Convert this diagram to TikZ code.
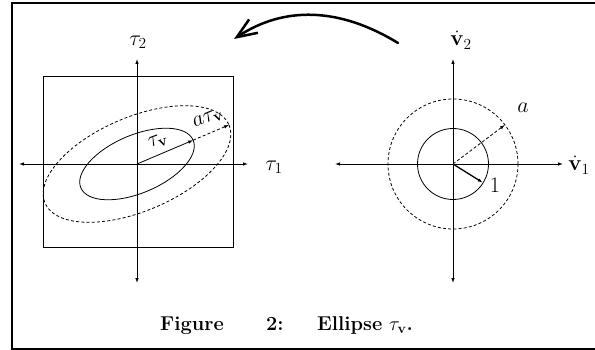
\RequirePackage{fix-cm}
\documentclass[tikz,border=0pt]{standalone}
\usetikzlibrary{arrows.meta,calc}
\begin{document}
\begin{tikzpicture}[x=1pt,y=-1pt,
  axis/.style={line width=0.8pt,{Latex[length=5pt,width=3.5pt]}-{Latex[length=5pt,width=3.5pt]}},
  dashcurve/.style={dash pattern=on 3pt off 2.2pt, line width=0.8pt},
  solidcurve/.style={line width=0.8pt},
  lab/.style={font=\fontsize{22}{26}\selectfont, inner sep=0pt},
  capt/.style={font=\fontsize{20}{24}\selectfont\bfseries, inner sep=0pt, anchor=base west},
  framel/.style={line width=1.4pt},
  bigarrow/.style={line width=2.5pt, line cap=round, -{Straight Barb[length=20pt,width=16pt]}}
]
\useasboundingbox (0,0) rectangle (595,350);
\draw[framel] (595,3) -- (12,3) -- (12,349) -- (595,349);

% left diagram
\coordinate (O1) at (137,164);
\coordinate (L1w) at (19,164);
\coordinate (L1e) at (248,164);
\coordinate (L1n) at (137,59);
\coordinate (L1s) at (137,283);
\draw[axis] (L1w) -- (L1e);
\draw[axis] (L1s) -- (L1n);
\draw[line width=1pt] (43,77) rectangle (233,248);
\draw[solidcurve, rotate around={23:(O1)}] (O1) ellipse [x radius=61, y radius=29];
\draw[dashcurve, rotate around={23:(O1)}] (O1) ellipse [x radius=100, y radius=47];
\coordinate (E1) at ($(O1)+(23:61pt)$);
\coordinate (E2) at ($(O1)+(23:100pt)$);
\draw[solidcurve, -{Latex[length=5pt,width=3.5pt]}] (O1) -- (E1);
\draw[dashcurve, -{Latex[length=5pt,width=3.5pt]}] (E1) -- (E2);
\node[lab] (tau2) at (138,42) {$\tau_2$};
\node[lab] (tau1) at (274,167) {$\tau_1$};
\node[lab, rotate=20] (tauv) at (158,141) {$\tau_{\mathbf v}$};
\node[lab, rotate=22] (atauv) at (208,119) {$a\tau_{\mathbf v}$};

% right diagram
\coordinate (O2) at (453,164);
\coordinate (L2w) at (335,164);
\coordinate (L2e) at (563,164);
\coordinate (L2n) at (453,59);
\coordinate (L2s) at (453,283);
\draw[axis] (L2w) -- (L2e);
\draw[axis] (L2s) -- (L2n);
\draw[solidcurve] (O2) circle [radius=35.5];
\draw[dashcurve] (O2) circle [radius=65];
\coordinate (R1) at ($(O2)+(-32:35pt)$);
\coordinate (R2) at ($(O2)+(37:65pt)$);
\draw[line width=1.3pt, -{Latex[length=5pt,width=3.5pt]}] (O2) -- (R1);
\draw[dashcurve, -{Latex[length=5pt,width=3.5pt]}] (O2) -- (R2);
\node[lab] (v2) at (461,40) {$\dot{\mathbf v}_2$};
\node[lab] (v1) at (579,165) {$\dot{\mathbf v}_1$};
\node[lab] (la) at (523,108) {$a$};
\node[lab] (l1) at (495,185) {$1$};

% big curved arrow
\coordinate (A0) at (398,43);
\coordinate (A1) at (234,39);
\draw[bigarrow] (A0) .. controls (339,7) and (284,6) .. (A1);

% caption
\node[capt] (capF) at (160,330) {Figure};
\node[capt] (cap2) at (266,330) {2:};
\node[capt] (capE) at (317,330) {Ellipse};
\node[capt] (capT) at (389,330) {$\tau_{\mathbf v}$.};
\end{tikzpicture}
\end{document}
